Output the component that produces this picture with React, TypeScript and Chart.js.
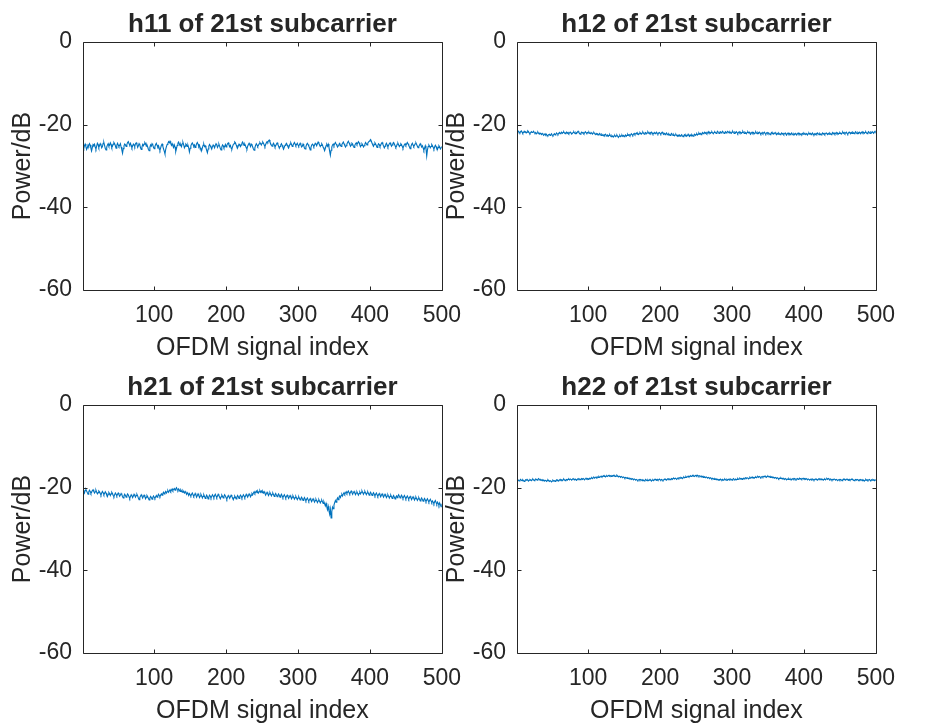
import { useEffect, useRef } from 'react';
import { Chart, registerables } from 'chart.js';

Chart.register(...registerables);

// ---- data -------------------------------------------------------------
const PANEL_TITLES = [
  'h11 of 21st subcarrier',
  'h12 of 21st subcarrier',
  'h21 of 21st subcarrier',
  'h22 of 21st subcarrier',
];
const X_LABEL = 'OFDM signal index';
const Y_LABEL = 'Power/dB';
const X_TICKS = [100, 200, 300, 400, 500];
const Y_TICKS = [-60, -40, -20, 0];
const X_MIN = 1;
const X_MAX = 500;
const Y_MIN = -60;
const Y_MAX = 0;
// one sample per OFDM symbol, symbols numbered from 1
const FIRST_INDEX = 1;
const INDEX_STEP = 1;

const h11 = [
  -25.4, -25.8, -25.1, -24.7, -25.3, -26.0, -25.6, -24.9, -25.2, -24.6, -24.9, -25.7, -26.3, -25.5, -24.8, -25.0, -24.7, -25.4, -25.9, -25.2, -24.5, -24.8, -25.5, -25.1, -24.6,
  -24.9, -25.6, -25.3, -24.5, -24.3, -25.0, -25.8, -26.1, -25.4, -24.9, -24.6, -25.2, -25.0, -24.4, -24.8, -25.5, -25.2, -24.7, -24.3, -24.6, -25.1, -25.7, -25.0, -24.5, -24.9,
  -25.3, -25.0, -24.6, -25.4, -26.1, -26.9, -25.8, -25.1, -24.7, -24.9, -25.3, -24.8, -24.3, -24.1, -24.6, -24.9, -24.5, -25.0, -25.6, -25.2, -24.7, -24.9, -25.3, -24.6, -24.4,
  -24.8, -25.5, -25.1, -24.6, -24.9, -25.6, -26.0, -25.4, -24.8, -25.1, -24.7, -24.3, -24.6, -25.2, -24.9, -25.4, -26.0, -26.3, -25.5, -24.9, -25.2, -24.6, -24.9, -25.5, -25.8,
  -25.3, -24.8, -24.5, -25.0, -25.4, -25.1, -25.7, -26.2, -25.6, -25.0, -24.7, -25.2, -25.9, -26.4, -27.1, -26.0, -25.3, -24.8, -24.5, -24.1, -24.4, -24.0, -24.5, -25.0, -24.6,
  -25.1, -25.5, -24.9, -25.4, -26.5, -25.8, -25.0, -24.5, -24.2, -24.7, -25.1, -24.8, -25.3, -24.6, -24.3, -24.9, -25.6, -25.2, -24.7, -24.9, -25.3, -25.0, -25.6, -26.6, -25.7,
  -25.1, -24.7, -24.4, -24.8, -25.2, -24.9, -25.5, -25.2, -24.6, -24.3, -24.7, -25.3, -25.0, -25.6, -26.1, -26.3, -25.6, -25.0, -24.7, -25.3, -25.1, -25.6, -26.2, -26.8, -25.9,
  -25.2, -24.8, -25.1, -25.5, -25.9, -25.3, -24.9, -25.2, -25.6, -25.0, -24.6, -24.9, -25.5, -25.1, -24.7, -25.2, -25.8, -26.1, -25.4, -24.9, -25.1, -25.6, -25.3, -24.8, -25.4,
  -25.0, -24.6, -24.4, -24.9, -25.3, -25.0, -25.7, -25.9, -25.3, -24.8, -24.6, -24.2, -24.4, -24.9, -25.4, -25.6, -25.1, -24.7, -25.0, -25.3, -24.9, -24.5, -24.2, -24.6, -25.0,
  -24.7, -25.1, -25.6, -25.9, -25.2, -24.8, -24.5, -24.9, -25.3, -24.7, -24.9, -25.4, -25.9, -26.2, -25.6, -25.0, -24.6, -24.9, -25.3, -25.0, -24.6, -24.3, -24.6, -24.9, -24.5,
  -24.2, -24.5, -24.9, -25.3, -24.8, -24.4, -24.1, -24.3, -23.9, -23.7, -24.2, -24.6, -25.0, -25.2, -24.8, -24.5, -24.9, -25.4, -25.1, -24.7, -24.4, -24.8, -25.2, -25.7, -25.3,
  -24.9, -24.6, -25.0, -25.5, -25.9, -25.4, -25.0, -24.7, -24.5, -24.9, -25.3, -25.6, -25.1, -24.7, -24.4, -24.8, -25.3, -25.0, -24.6, -24.3, -24.7, -25.1, -24.8, -24.5, -24.9,
  -25.2, -24.8, -24.5, -24.9, -25.4, -25.2, -24.7, -25.1, -25.7, -25.9, -25.3, -24.8, -24.5, -24.8, -25.2, -25.6, -26.1, -25.5, -25.0, -24.7, -24.9, -25.3, -24.9, -24.5, -24.7,
  -25.1, -24.6, -24.2, -24.5, -24.9, -25.3, -25.0, -24.6, -24.9, -25.5, -25.8, -26.3, -25.7, -25.1, -24.8, -25.2, -24.7, -25.4, -26.4, -27.4, -26.2, -25.4, -24.9, -24.7, -25.1,
  -24.6, -24.3, -24.7, -25.0, -25.4, -25.1, -24.7, -24.5, -25.0, -25.3, -24.8, -24.5, -24.2, -24.6, -25.0, -25.4, -25.1, -24.7, -24.3, -24.0, -24.4, -24.8, -25.2, -24.9, -24.5,
  -24.7, -25.2, -25.5, -25.0, -24.6, -24.4, -24.8, -24.5, -24.1, -24.4, -24.9, -25.3, -25.0, -24.6, -24.9, -25.4, -25.1, -24.7, -24.3, -24.6, -24.9, -24.5, -24.2, -24.0, -23.8,
  -23.6, -24.0, -24.5, -24.9, -25.2, -24.8, -24.4, -24.7, -25.1, -25.5, -25.0, -24.6, -24.8, -25.3, -25.0, -24.5, -24.3, -24.7, -25.2, -25.6, -25.2, -24.8, -24.5, -24.9, -25.4,
  -25.0, -24.6, -24.4, -24.8, -25.2, -24.9, -24.5, -24.3, -24.7, -25.1, -25.5, -25.2, -24.7, -24.5, -24.9, -25.3, -25.0, -24.6, -24.8, -25.3, -25.7, -25.2, -24.8, -24.6, -25.0,
  -24.7, -24.3, -24.6, -25.0, -25.4, -25.8, -25.3, -24.8, -24.5, -24.9, -25.3, -25.0, -24.6, -24.4, -24.8, -25.2, -25.6, -25.3, -24.9, -24.6, -25.0, -25.4, -25.1, -25.6, -26.2,
  -25.7, -25.1, -25.8, -27.6, -26.1, -25.3, -24.9, -25.2, -25.6, -25.3, -24.8, -25.1, -25.5, -25.9, -25.4, -25.0, -25.3, -25.8, -26.0, -25.5, -25.1, -25.4, -25.9, -25.6, -25.2,
];

const h12 = [
  -21.7, -21.9, -21.6, -21.8, -22.0, -21.7, -21.5, -21.8, -22.1, -21.9, -21.6, -21.8, -21.7, -22.0, -21.8, -21.5, -21.7, -22.0, -22.2, -21.9, -21.7, -21.9, -21.8, -21.6, -21.9,
  -22.1, -21.9, -22.2, -22.0, -21.8, -22.1, -22.3, -22.0, -22.2, -22.4, -22.1, -22.3, -22.6, -22.4, -22.2, -22.5, -22.3, -22.6, -22.7, -22.4, -22.3, -22.6, -22.4, -22.2, -22.5,
  -22.7, -22.4, -22.2, -22.5, -22.3, -22.0, -22.2, -22.4, -22.1, -21.9, -22.2, -22.0, -21.8, -22.1, -21.9, -21.7, -22.0, -22.2, -21.9, -21.8, -22.1, -21.9, -22.2, -22.0, -21.8,
  -22.0, -22.3, -22.1, -21.9, -21.7, -22.0, -22.2, -21.9, -22.1, -21.8, -21.6, -21.9, -22.1, -22.3, -22.0, -21.8, -22.0, -21.9, -22.2, -22.0, -21.7, -21.9, -22.1, -21.9, -22.0,
  -21.8, -22.1, -22.2, -21.9, -22.1, -22.3, -22.0, -21.9, -22.2, -22.4, -22.1, -22.3, -22.2, -22.5, -22.3, -22.1, -22.4, -22.6, -22.3, -22.5, -22.7, -22.4, -22.6, -22.3, -22.5,
  -22.7, -22.5, -22.8, -22.6, -22.4, -22.7, -22.9, -22.6, -22.8, -23.0, -22.7, -22.6, -22.9, -22.7, -22.5, -22.8, -23.1, -22.8, -22.6, -22.9, -22.7, -22.5, -22.8, -22.6, -22.9,
  -22.7, -22.5, -22.8, -22.6, -22.3, -22.6, -22.4, -22.7, -22.5, -22.2, -22.4, -22.6, -22.3, -22.1, -22.4, -22.2, -22.0, -22.3, -22.1, -22.4, -22.2, -21.9, -22.1, -22.3, -22.0,
  -21.8, -22.1, -22.3, -22.0, -21.9, -22.2, -22.0, -21.7, -22.0, -22.2, -21.9, -22.1, -21.8, -22.0, -22.3, -22.1, -21.9, -22.2, -22.0, -21.8, -22.1, -22.3, -22.0, -21.9, -22.1,
  -22.3, -22.0, -21.8, -22.1, -22.3, -22.1, -22.4, -22.2, -22.0, -22.3, -22.5, -22.2, -22.4, -22.6, -22.3, -22.1, -22.4, -22.6, -22.4, -22.7, -22.5, -22.3, -22.6, -22.8, -22.5,
  -22.7, -22.5, -22.8, -22.6, -22.4, -22.7, -22.9, -22.6, -22.4, -22.7, -22.5, -22.8, -22.6, -22.3, -22.6, -22.8, -22.5, -22.7, -22.4, -22.6, -22.8, -22.5, -22.3, -22.6, -22.4,
  -22.2, -22.5, -22.3, -22.0, -22.3, -22.1, -22.4, -22.2, -21.9, -22.2, -22.0, -21.8, -22.1, -21.9, -22.2, -22.0, -21.7, -22.0, -21.8, -22.1, -21.9, -21.7, -22.0, -22.2, -21.9,
  -21.7, -21.9, -22.1, -21.8, -21.6, -21.9, -22.1, -21.8, -21.7, -22.0, -21.8, -21.6, -21.9, -22.1, -21.9, -21.7, -22.0, -21.8, -21.6, -21.8, -22.0, -21.7, -21.9, -22.1, -21.8,
  -21.6, -21.9, -22.1, -21.8, -22.0, -21.7, -21.9, -22.2, -21.9, -21.7, -22.0, -21.8, -22.1, -21.9, -21.6, -21.9, -22.1, -21.8, -22.0, -22.2, -21.9, -21.7, -22.0, -21.8, -22.1,
  -22.3, -22.0, -21.8, -22.1, -21.9, -22.2, -22.0, -21.7, -22.0, -22.2, -21.9, -22.1, -21.8, -22.0, -22.3, -22.1, -21.9, -22.2, -22.0, -21.8, -22.1, -22.3, -22.0, -21.9, -22.2,
  -22.0, -22.2, -22.4, -22.1, -21.9, -22.2, -22.0, -22.3, -22.1, -21.9, -22.2, -22.4, -22.1, -22.3, -22.0, -22.2, -22.4, -22.2, -22.0, -22.3, -22.1, -22.4, -22.2, -22.0, -22.3,
  -22.5, -22.2, -22.0, -22.3, -22.1, -22.4, -22.2, -22.0, -22.3, -22.5, -22.2, -22.4, -22.1, -22.3, -22.5, -22.2, -22.0, -22.3, -22.1, -22.4, -22.2, -22.4, -22.1, -22.3, -22.0,
  -22.2, -22.4, -22.1, -22.3, -22.5, -22.2, -22.0, -22.3, -22.1, -22.4, -22.2, -22.0, -22.3, -22.5, -22.2, -22.4, -22.1, -22.3, -22.0, -22.2, -22.4, -22.1, -22.3, -22.5, -22.2,
  -22.0, -22.3, -22.1, -22.4, -22.2, -22.0, -22.2, -22.4, -22.1, -22.3, -22.0, -22.2, -22.4, -22.1, -21.9, -22.2, -22.0, -22.3, -22.1, -21.9, -22.2, -22.0, -22.3, -22.1, -21.9,
  -22.1, -22.3, -22.0, -21.8, -22.1, -21.9, -22.2, -22.0, -21.8, -22.1, -22.3, -22.0, -21.8, -22.0, -22.2, -21.9, -22.1, -21.8, -22.0, -22.2, -21.9, -21.7, -22.0, -22.2, -21.9,
  -22.1, -21.8, -22.0, -22.2, -21.9, -21.7, -22.0, -21.8, -22.1, -21.9, -21.7, -22.0, -22.2, -21.9, -21.7, -21.9, -22.1, -21.8, -22.0, -21.7, -21.9, -22.1, -21.8, -21.6, -21.9,
];

const h21 = [
  -20.5, -20.9, -21.3, -20.7, -20.4, -20.8, -21.2, -21.6, -21.0, -20.6, -20.9, -21.4, -21.1, -20.7, -20.5, -20.9, -21.3, -21.0, -20.6, -21.1, -21.5, -21.2, -20.8, -21.0, -21.4,
  -21.8, -21.3, -20.9, -21.2, -21.7, -21.4, -21.0, -21.3, -21.8, -22.1, -21.6, -21.2, -21.5, -21.9, -21.5, -21.1, -21.4, -21.9, -22.2, -21.7, -21.3, -21.6, -22.0, -21.6, -21.3,
  -21.7, -22.1, -21.8, -21.4, -21.7, -22.2, -22.5, -22.0, -21.6, -21.9, -22.3, -21.9, -21.5, -21.8, -22.2, -22.6, -22.1, -21.7, -22.0, -22.4, -22.0, -21.6, -21.9, -22.3, -21.9,
  -21.6, -22.0, -22.5, -22.9, -22.4, -22.0, -21.7, -22.1, -22.5, -22.1, -21.8, -22.2, -22.7, -22.3, -21.9, -22.2, -22.6, -23.0, -22.5, -22.1, -22.4, -22.8, -22.4, -22.0, -22.3,
  -22.6, -22.2, -21.9, -22.3, -22.0, -21.6, -21.9, -22.2, -21.8, -21.5, -21.8, -21.4, -21.1, -21.5, -21.2, -20.9, -21.3, -21.0, -20.7, -21.1, -20.8, -20.5, -20.9, -20.6, -20.3,
  -20.7, -20.4, -20.2, -20.6, -20.3, -20.0, -20.4, -20.7, -20.3, -20.6, -20.9, -20.5, -20.8, -21.1, -20.7, -21.0, -21.3, -20.9, -21.2, -21.6, -21.2, -21.5, -21.9, -21.4, -21.7,
  -22.0, -21.6, -21.3, -21.7, -22.1, -21.8, -21.4, -21.8, -22.3, -21.9, -21.5, -21.9, -22.4, -22.0, -21.6, -22.0, -22.5, -22.1, -21.7, -22.1, -22.6, -22.2, -21.8, -22.2, -22.7,
  -22.2, -21.8, -22.1, -22.5, -22.1, -21.7, -22.0, -22.4, -21.9, -21.6, -22.0, -22.4, -22.0, -21.6, -21.9, -22.3, -22.7, -22.2, -21.8, -22.1, -22.5, -22.1, -21.7, -22.0, -22.4,
  -22.8, -22.3, -21.9, -22.2, -22.6, -22.2, -21.8, -22.1, -22.5, -22.9, -22.4, -22.0, -22.3, -22.7, -22.3, -21.9, -22.2, -22.6, -22.1, -21.8, -22.1, -22.5, -22.1, -21.7, -22.0,
  -22.4, -22.0, -21.6, -21.9, -22.3, -21.9, -21.5, -21.8, -22.2, -21.8, -21.4, -21.7, -21.3, -21.0, -21.4, -21.1, -20.8, -21.2, -20.9, -21.3, -21.0, -20.7, -21.1, -20.8, -21.2,
  -20.9, -21.3, -21.0, -21.4, -21.8, -21.4, -21.1, -21.5, -21.9, -21.5, -21.2, -21.6, -22.0, -21.6, -21.3, -21.7, -22.1, -21.7, -21.4, -21.8, -22.2, -21.8, -21.5, -21.9, -22.3,
  -21.9, -21.6, -22.0, -22.4, -22.0, -21.7, -22.1, -22.5, -22.1, -21.8, -22.2, -22.6, -22.2, -21.9, -22.3, -22.7, -22.3, -22.0, -22.4, -22.8, -22.4, -22.1, -22.5, -22.9, -22.5,
  -22.2, -22.6, -23.0, -22.6, -22.3, -22.7, -23.1, -22.7, -22.4, -22.8, -23.2, -22.8, -22.5, -22.9, -23.3, -22.9, -22.6, -23.0, -23.4, -23.0, -22.7, -23.1, -23.5, -23.1, -22.8,
  -23.2, -23.6, -23.2, -22.9, -23.3, -23.7, -23.3, -23.0, -23.4, -23.8, -23.4, -23.9, -24.4, -23.8, -24.6, -25.3, -24.5, -25.6, -26.4, -25.2, -27.3, -25.8, -24.7, -25.1, -24.2,
  -23.6, -23.1, -23.5, -22.9, -22.5, -22.9, -22.3, -22.0, -22.4, -21.9, -21.6, -22.0, -21.5, -21.2, -21.6, -21.3, -21.0, -21.4, -21.1, -20.8, -21.2, -21.5, -21.1, -20.8, -21.2,
  -21.6, -21.2, -20.9, -21.3, -21.7, -21.3, -21.0, -21.4, -21.8, -21.4, -21.1, -21.5, -21.1, -20.8, -21.2, -21.6, -21.2, -20.9, -21.3, -21.7, -21.3, -21.0, -21.4, -21.8, -21.4,
  -21.1, -21.5, -21.9, -21.5, -21.2, -21.6, -22.0, -21.6, -21.3, -21.7, -22.1, -21.7, -21.4, -21.8, -22.2, -21.8, -21.5, -21.9, -22.3, -21.9, -21.6, -22.0, -22.4, -22.0, -21.7,
  -22.1, -22.5, -22.1, -21.8, -22.2, -22.6, -22.2, -21.9, -22.3, -22.7, -22.3, -22.0, -22.4, -22.0, -21.7, -22.1, -22.5, -22.1, -21.8, -22.2, -22.6, -22.2, -21.9, -22.3, -22.7,
  -22.3, -22.0, -22.4, -22.8, -22.4, -22.1, -22.5, -22.9, -22.5, -22.2, -22.6, -23.0, -22.6, -22.3, -22.7, -23.1, -22.7, -22.4, -22.8, -23.2, -22.8, -22.5, -22.9, -23.3, -22.9,
  -22.6, -23.0, -23.4, -23.0, -22.7, -23.1, -23.5, -23.1, -22.8, -23.2, -23.6, -23.2, -23.5, -23.9, -23.4, -23.1, -23.6, -24.0, -23.5, -23.8, -24.3, -23.7, -24.1, -24.6, -23.9,
];

const h22 = [
  -18.3, -18.1, -18.2, -18.4, -18.2, -18.0, -18.2, -18.3, -18.1, -18.3, -18.5, -18.3, -18.1, -18.2, -18.0, -18.2, -18.4, -18.2, -18.0, -18.1, -18.3, -18.1, -17.9, -18.1, -18.3,
  -18.1, -17.9, -18.0, -18.2, -18.0, -17.8, -18.0, -18.2, -18.0, -18.1, -18.3, -18.1, -18.2, -18.4, -18.2, -18.3, -18.5, -18.3, -18.1, -18.3, -18.5, -18.3, -18.4, -18.6, -18.4,
  -18.2, -18.4, -18.3, -18.5, -18.3, -18.1, -18.3, -18.2, -18.4, -18.2, -18.0, -18.2, -18.1, -18.3, -18.1, -17.9, -18.1, -18.3, -18.1, -18.0, -18.2, -18.0, -17.9, -18.1, -17.9,
  -18.0, -18.2, -18.0, -17.8, -18.0, -18.1, -17.9, -18.1, -18.2, -18.0, -17.8, -18.0, -17.9, -18.1, -17.9, -17.8, -18.0, -17.8, -17.9, -18.1, -17.9, -17.7, -17.9, -17.8, -18.0,
  -17.8, -17.7, -17.9, -17.7, -17.6, -17.8, -17.6, -17.5, -17.7, -17.5, -17.4, -17.6, -17.4, -17.5, -17.3, -17.5, -17.4, -17.2, -17.4, -17.3, -17.1, -17.3, -17.2, -17.4, -17.2,
  -17.1, -17.3, -17.1, -17.0, -17.2, -17.1, -17.3, -17.1, -17.2, -17.0, -17.2, -17.1, -17.3, -17.2, -17.0, -17.2, -17.4, -17.2, -17.3, -17.5, -17.3, -17.4, -17.6, -17.4, -17.5,
  -17.7, -17.5, -17.6, -17.8, -17.6, -17.7, -17.9, -17.7, -17.8, -18.0, -17.8, -17.9, -18.1, -17.9, -18.0, -18.2, -18.0, -18.1, -18.3, -18.1, -18.0, -18.2, -18.0, -18.1, -18.3,
  -18.1, -18.2, -18.4, -18.2, -18.0, -18.2, -18.3, -18.1, -18.3, -18.2, -18.0, -18.2, -18.4, -18.2, -18.1, -18.3, -18.1, -17.9, -18.1, -18.2, -18.0, -18.2, -18.1, -17.9, -18.1,
  -18.2, -18.0, -18.1, -18.3, -18.1, -17.9, -18.1, -18.0, -18.2, -18.0, -17.8, -18.0, -17.9, -18.1, -17.9, -17.8, -18.0, -17.8, -17.7, -17.9, -17.7, -17.8, -18.0, -17.8, -17.6,
  -17.8, -17.6, -17.7, -17.5, -17.6, -17.8, -17.6, -17.4, -17.6, -17.5, -17.3, -17.5, -17.4, -17.2, -17.4, -17.3, -17.1, -17.3, -17.2, -17.0, -17.2, -17.1, -17.3, -17.1, -17.0,
  -17.2, -17.0, -17.1, -17.3, -17.1, -17.2, -17.4, -17.2, -17.3, -17.5, -17.3, -17.4, -17.6, -17.4, -17.5, -17.7, -17.5, -17.6, -17.8, -17.6, -17.7, -17.9, -17.7, -17.8, -18.0,
  -17.8, -17.9, -18.1, -17.9, -18.0, -18.2, -18.0, -18.1, -17.9, -18.1, -18.2, -18.0, -18.2, -18.1, -17.9, -18.1, -18.2, -18.0, -18.2, -18.0, -17.9, -18.1, -17.9, -18.0, -18.2,
  -18.0, -17.8, -18.0, -18.1, -17.9, -18.1, -18.0, -17.8, -18.0, -17.9, -17.7, -17.9, -17.8, -18.0, -17.8, -17.7, -17.9, -17.7, -17.6, -17.8, -17.6, -17.7, -17.9, -17.7, -17.5,
  -17.7, -17.6, -17.4, -17.6, -17.5, -17.7, -17.5, -17.4, -17.6, -17.4, -17.3, -17.5, -17.3, -17.4, -17.6, -17.4, -17.3, -17.5, -17.3, -17.2, -17.4, -17.3, -17.5, -17.3, -17.2,
  -17.4, -17.3, -17.5, -17.3, -17.4, -17.6, -17.4, -17.5, -17.7, -17.5, -17.6, -17.8, -17.6, -17.7, -17.9, -17.7, -17.8, -17.6, -17.8, -17.9, -17.7, -17.9, -18.0, -17.8, -17.9,
  -18.1, -17.9, -18.0, -17.8, -18.0, -18.1, -17.9, -18.1, -17.9, -17.8, -18.0, -17.8, -17.9, -18.1, -17.9, -17.8, -18.0, -17.9, -17.7, -17.9, -17.8, -18.0, -17.8, -17.7, -17.9,
  -17.8, -18.0, -17.8, -17.9, -18.1, -17.9, -18.0, -18.2, -18.0, -17.9, -18.1, -17.9, -18.0, -18.2, -18.0, -17.9, -18.1, -18.0, -18.2, -18.0, -17.8, -18.0, -17.9, -18.1, -17.9,
  -18.0, -18.2, -18.0, -17.9, -18.1, -17.9, -17.8, -18.0, -17.8, -17.9, -18.1, -17.9, -18.0, -18.2, -18.0, -18.1, -17.9, -18.0, -18.2, -18.0, -18.1, -18.3, -18.1, -18.0, -18.2,
  -18.0, -18.1, -18.3, -18.1, -17.9, -18.1, -18.0, -18.2, -18.0, -17.9, -18.1, -18.2, -18.0, -18.2, -18.1, -17.9, -18.1, -18.0, -18.2, -18.3, -18.1, -18.0, -18.2, -18.0, -18.1,
  -18.3, -18.1, -18.2, -18.0, -18.1, -18.3, -18.1, -18.2, -18.4, -18.2, -18.0, -18.2, -18.1, -18.3, -18.1, -18.0, -18.2, -18.3, -18.1, -18.2, -18.0, -18.1, -18.3, -18.1, -18.2,
];

const PANEL_SERIES = [h11, h12, h21, h22];

// ---- styling ----------------------------------------------------------
const FONT_FAMILY = '"Liberation Sans", Arial, Helvetica, sans-serif';
const TEXT_COLOR = '#262626';
const AXIS_COLOR = '#262626';
const LINE_COLOR = '#0072BD';

const CANVAS_W = 473;
const CANVAS_H = 380;
const COL_OFFSET = 434;
const ROW_OFFSET = 363;
const TICK_LEN = 4;

// Draws the closed axes box with inward tick marks on all four sides.
const axesBoxPlugin = {
  id: 'axesBox',
  afterDatasetsDraw(chart: any) {
    const { ctx, chartArea, scales } = chart;
    const { left, right, top, bottom } = chartArea;
    const xs = scales.x;
    const ys = scales.y;
    const snap = (v: number) => Math.round(v) + 0.5;
    ctx.save();
    ctx.strokeStyle = AXIS_COLOR;
    ctx.lineWidth = 1;
    ctx.beginPath();
    ctx.rect(snap(left), snap(top), Math.round(right) - Math.round(left), Math.round(bottom) - Math.round(top));
    xs.ticks.forEach((t: any) => {
      const px = snap(xs.getPixelForValue(t.value));
      ctx.moveTo(px, snap(bottom));
      ctx.lineTo(px, snap(bottom) - TICK_LEN);
      ctx.moveTo(px, snap(top));
      ctx.lineTo(px, snap(top) + TICK_LEN);
    });
    ys.ticks.forEach((t: any) => {
      const py = snap(ys.getPixelForValue(t.value));
      ctx.moveTo(snap(left), py);
      ctx.lineTo(snap(left) + TICK_LEN, py);
      ctx.moveTo(snap(right), py);
      ctx.lineTo(snap(right) - TICK_LEN, py);
    });
    ctx.stroke();
    ctx.restore();
  },
};

function Panel({ title, values, left, top }: { title: string; values: number[]; left: number; top: number }) {
  const ref = useRef<HTMLCanvasElement | null>(null);

  useEffect(() => {
    if (!ref.current) return;
    const points = values.map((v, i) => ({ x: FIRST_INDEX + i * INDEX_STEP, y: v }));
    const chart = new Chart(ref.current, {
      type: 'line',
      data: {
        datasets: [
          {
            data: points,
            borderColor: LINE_COLOR,
            borderWidth: 1.1,
            pointRadius: 0,
            tension: 0,
            fill: false,
          },
        ],
      },
      options: {
        responsive: false,
        animation: false,
        events: [],
        layout: { padding: { left: 0, right: 28, top: 0, bottom: 0 } },
        plugins: {
          legend: { display: false },
          tooltip: { enabled: false },
          title: {
            display: true,
            text: title,
            fullSize: false,
            color: TEXT_COLOR,
            font: { family: FONT_FAMILY, size: 26, weight: 'bold', lineHeight: 1.2 },
            padding: { top: 9.4, bottom: 1.4 },
          },
        },
        scales: {
          x: {
            type: 'linear',
            min: X_MIN,
            max: X_MAX,
            afterBuildTicks: (s: any) => {
              s.ticks = X_TICKS.map((v) => ({ value: v }));
            },
            afterFit: (s: any) => {
              s.height = 90;
            },
            grid: { display: false, drawTicks: false },
            border: { display: false },
            ticks: {
              color: TEXT_COLOR,
              font: { family: FONT_FAMILY, size: 23 },
              padding: 12,
              maxRotation: 0,
              autoSkip: false,
            },
            title: {
              display: true,
              text: X_LABEL,
              color: TEXT_COLOR,
              font: { family: FONT_FAMILY, size: 25, lineHeight: 1.2 },
              padding: 17,
            },
          },
          y: {
            type: 'linear',
            min: Y_MIN,
            max: Y_MAX,
            afterBuildTicks: (s: any) => {
              s.ticks = Y_TICKS.map((v) => ({ value: v }));
            },
            afterFit: (s: any) => {
              s.width = 83;
            },
            grid: { display: false, drawTicks: false },
            border: { display: false },
            ticks: {
              color: TEXT_COLOR,
              font: { family: FONT_FAMILY, size: 23 },
              padding: 11,
            },
            title: {
              display: true,
              text: Y_LABEL,
              color: TEXT_COLOR,
              font: { family: FONT_FAMILY, size: 25, lineHeight: 1.2 },
              padding: 8,
            },
          },
        },
      },
      plugins: [axesBoxPlugin],
    } as any);
    return () => chart.destroy();
  }, [title, values]);

  return (
    <canvas
      ref={ref}
      width={CANVAS_W}
      height={CANVAS_H}
      style={{ position: 'absolute', left, top, width: CANVAS_W, height: CANVAS_H }}
    />
  );
}

export default function App() {
  return (
    <div style={{ position: 'absolute', left: 0, top: 0, width: 947, height: 724, background: '#ffffff', overflow: 'hidden' }}>
      {PANEL_TITLES.map((t, i) => (
        <Panel
          key={t}
          title={t}
          values={PANEL_SERIES[i]}
          left={(i % 2) * COL_OFFSET}
          top={Math.floor(i / 2) * ROW_OFFSET}
        />
      ))}
    </div>
  );
}
